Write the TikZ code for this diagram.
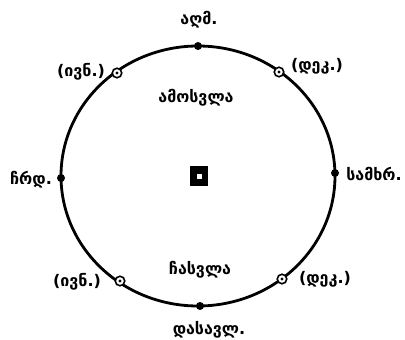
\documentclass[tikz,border=0pt]{standalone}
\usepackage{fontspec}
\newfontfamily\geo{DejaVu Sans}
\begin{document}
\begin{tikzpicture}[x=1pt,y=-1pt,
  lbl/.style={font=\geo\bfseries\fontsize{16}{18}\selectfont, inner sep=0pt},
  card/.style={circle, fill=black, inner sep=0pt, minimum size=8pt},
  solst/.style={circle, draw=black, fill=white, line width=1.6pt, inner sep=0pt, minimum size=9.5pt}]
\useasboundingbox (0,0) rectangle (405,340);
\draw[line width=2.8pt] (198,176) ellipse (137 and 130);
% cardinal points
\node[card] (E) at (198,46) {};
\node[card] (W) at (200,306) {};
\node[card] (N) at (61,178) {};
\node[card] (S) at (335,173) {};
% solstice points
\foreach \n/\p in {JR/{(117,73)}, DR/{(279,72)}, JS/{(120,281)}, DS/{(282,279)}}{
  \node[solst] (\n) at \p {};
  \fill (\n.center) circle (1.6pt);
}
% centre square
\node[fill=black, minimum width=18pt, minimum height=20pt, inner sep=0pt] (C) at (199,176) {};
\fill[white] (C.center) ++(-2.5,-2.5) rectangle ++(5,5);
% labels
\node[lbl] (lE) at (199,20) {აღმ.};
\node[lbl] (lW) at (209,330) {დასავლ.};
\node[lbl] (lN) at (31,180) {ჩრდ.};
\node[lbl] (lS) at (374,174) {სამხრ.};
\node[lbl] (lJR) at (81,72) {(ივნ.)};
\node[lbl] (lDR) at (317,66) {(დეკ.)};
\node[lbl] (lJS) at (77,282) {(ივნ.)};
\node[lbl] (lDS) at (325,279) {(დეკ.)};
\node[lbl] (rise) at (196,98) {ამოსვლა};
\node[lbl] (set) at (200,270) {ჩასვლა};
\end{tikzpicture}
\end{document}
